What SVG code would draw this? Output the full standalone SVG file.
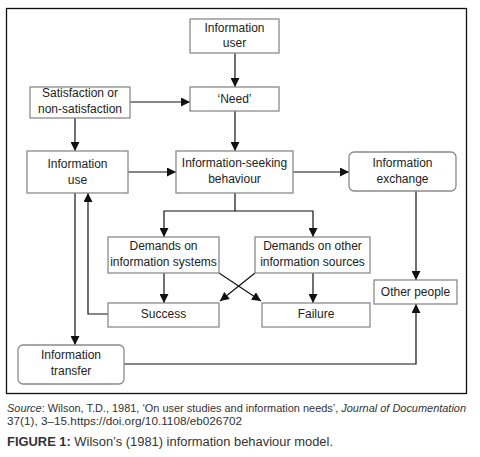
<svg xmlns="http://www.w3.org/2000/svg" width="480" height="457" viewBox="0 0 480 457">
<style>
.box{fill:#fff;stroke:#8a8a8a;stroke-width:1.3}
.t{font-family:"Liberation Sans",Arial,sans-serif;font-size:12px;fill:#222;text-anchor:middle}
.c{fill:none;stroke:#111;stroke-width:1.2}
.cap{font-family:"Liberation Sans",Arial,sans-serif;fill:#333}
</style>
<defs>
<marker id="ah" markerUnits="userSpaceOnUse" markerWidth="9" markerHeight="9" refX="9" refY="4.5" orient="auto" viewBox="0 0 9 9">
<path d="M0,0 L9,4.5 L0,9 z" fill="#111"/>
</marker>
</defs>
<rect width="480" height="457" fill="#fff"/>
<rect x="6.5" y="8.5" width="460" height="385" fill="none" stroke="#111" stroke-width="1.3"/>
<g id="connectors">
<path class="c" d="M235,53 V87" marker-end="url(#ah)"/>
<path class="c" d="M130,102 H190" marker-end="url(#ah)"/>
<path class="c" d="M75,118 V151" marker-end="url(#ah)"/>
<path class="c" d="M235,111 V151" marker-end="url(#ah)"/>
<path class="c" d="M128,172 H176" marker-end="url(#ah)"/>
<path class="c" d="M293,172 H349" marker-end="url(#ah)"/>
<path class="c" d="M235,193 V211 H164 V237" marker-end="url(#ah)"/>
<path class="c" d="M235,211 H313 V237" marker-end="url(#ah)"/>
<path class="c" d="M164,273 V303" marker-end="url(#ah)"/>
<path class="c" d="M313,273 V303" marker-end="url(#ah)"/>
<path class="c" d="M219,273 L261,301" marker-end="url(#ah)"/>
<path class="c" d="M255,273 L220,301" marker-end="url(#ah)"/>
<path class="c" d="M108,314 H88 V193" marker-end="url(#ah)"/>
<path class="c" d="M75,193 V345" marker-end="url(#ah)"/>
<path class="c" d="M124,364 H416 V304" marker-end="url(#ah)"/>
<path class="c" d="M416,191 V280" marker-end="url(#ah)"/>
</g>
<g id="info-user"><rect class="box" x="190" y="19" width="89" height="34"/><text class="t" x="234.5" y="32">Information</text><text class="t" x="234.5" y="47">user</text></g>
<g id="need"><rect class="box" x="190" y="87" width="89" height="24"/><text class="t" x="234.5" y="103">‘Need’</text></g>
<g id="satisfaction"><rect class="box" x="30" y="87" width="100" height="31"/><text class="t" x="80" y="97">Satisfaction or</text><text class="t" x="80" y="113">non-satisfaction</text></g>
<g id="info-use"><rect class="box" x="27" y="151" width="101" height="42"/><text class="t" x="77.5" y="168">Information</text><text class="t" x="77.5" y="184">use</text></g>
<g id="isb"><rect class="box" x="176" y="151" width="117" height="42"/><text class="t" x="234.5" y="167">Information-seeking</text><text class="t" x="234.5" y="183">behaviour</text></g>
<g id="exchange"><rect class="box" x="349" y="152" width="107" height="39" rx="5"/><text class="t" x="402.5" y="167">Information</text><text class="t" x="402.5" y="183">exchange</text></g>
<g id="demands-systems"><rect class="box" x="108" y="237" width="111" height="36"/><text class="t" x="163.5" y="250">Demands on</text><text class="t" x="163.5" y="266">information systems</text></g>
<g id="demands-other"><rect class="box" x="255" y="237" width="115" height="36"/><text class="t" x="312.5" y="250">Demands on other</text><text class="t" x="312.5" y="266">information sources</text></g>
<g id="success"><rect class="box" x="108" y="303" width="111" height="24"/><text class="t" x="163.5" y="318">Success</text></g>
<g id="failure"><rect class="box" x="262" y="303" width="108" height="24"/><text class="t" x="316" y="318">Failure</text></g>
<g id="other-people"><rect class="box" x="374" y="280" width="83" height="24"/><text class="t" x="415.5" y="296">Other people</text></g>
<g id="info-transfer"><rect class="box" x="18" y="345" width="106" height="39" rx="5"/><text class="t" x="71" y="359">Information</text><text class="t" x="71" y="375">transfer</text></g>
<text class="cap" x="7" y="412" font-size="10.5" textLength="459" lengthAdjust="spacingAndGlyphs"><tspan font-style="italic">Source</tspan>: Wilson, T.D., 1981, ‘On user studies and information needs’, <tspan font-style="italic">Journal of Documentation</tspan></text>
<text class="cap" x="7" y="425" font-size="11" textLength="235" lengthAdjust="spacingAndGlyphs">37(1), 3–15.https://doi.org/10.1108/eb026702</text>
<text class="cap" x="7" y="446" font-size="12.5" textLength="326" lengthAdjust="spacingAndGlyphs"><tspan font-weight="bold">FIGURE 1:</tspan> Wilson’s (1981) information behaviour model.</text>
</svg>
